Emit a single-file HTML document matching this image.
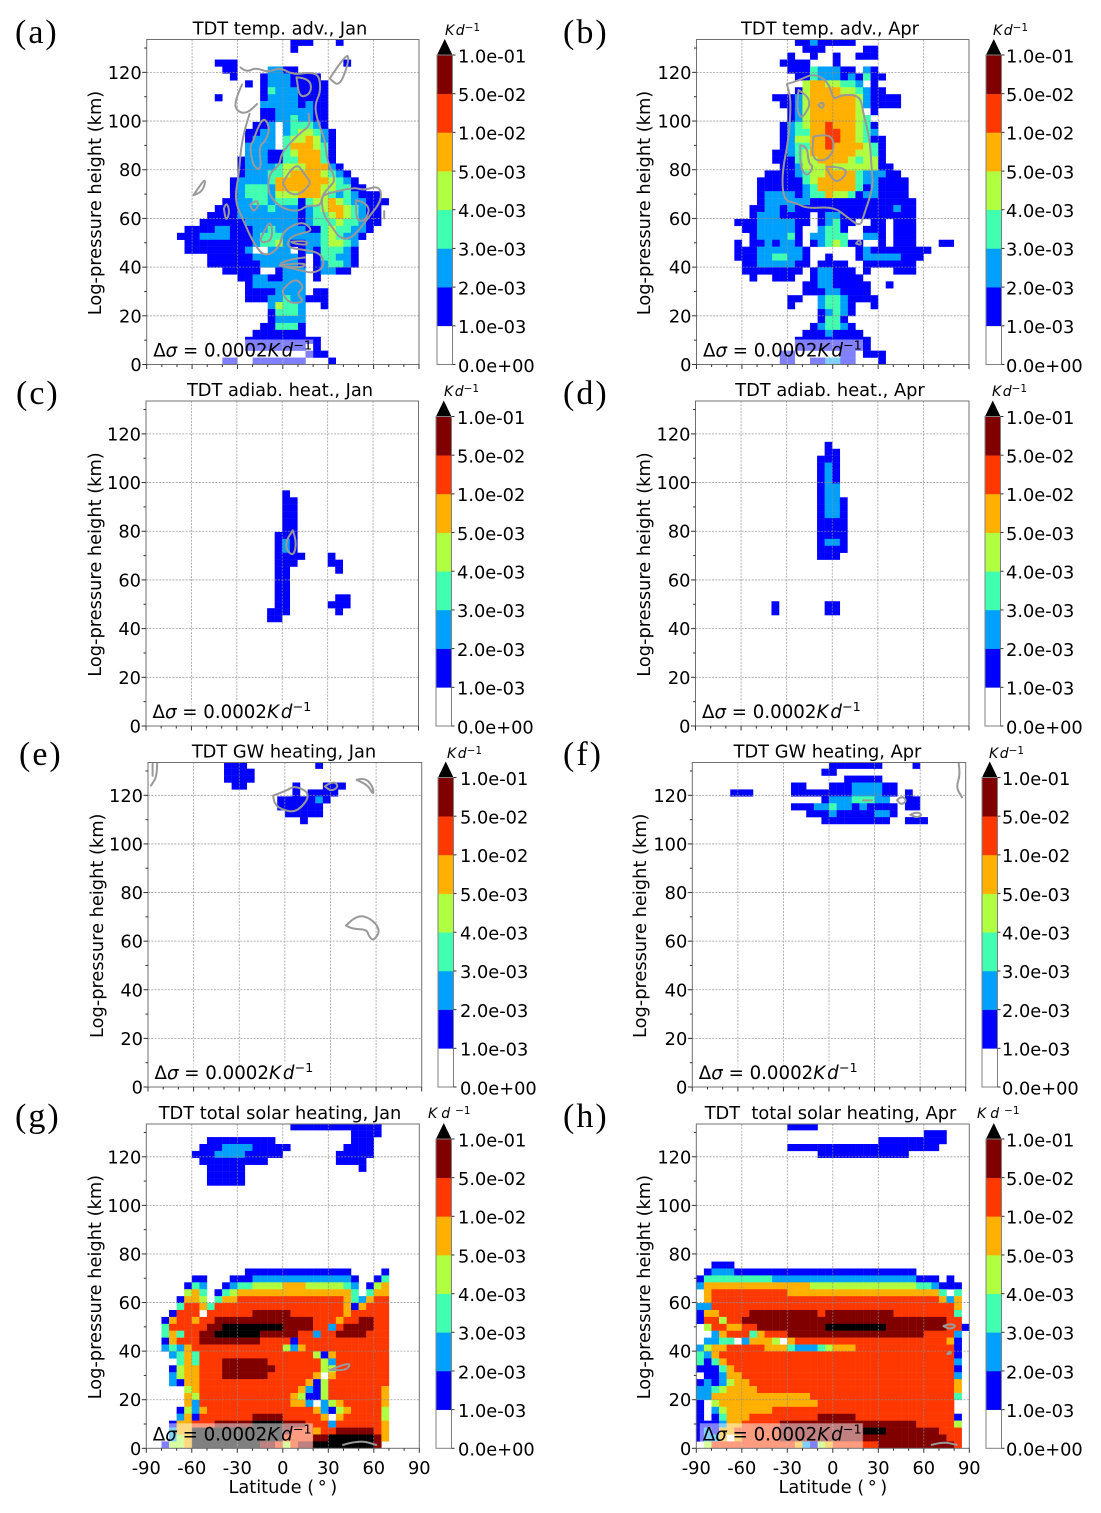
<!DOCTYPE html>
<html>
<head>
<meta charset="utf-8">
<title>TDT heating panels</title>
<style>
html,body{margin:0;padding:0;background:#fff;}
svg{display:block;}
text{font-family:"DejaVu Sans","Liberation Sans",sans-serif;fill:#000;}
</style>
</head>
<body>
<svg id="fig" xmlns="http://www.w3.org/2000/svg" width="1101" height="1513" viewBox="0 0 1101 1513"></svg>
<script>
// Axis values
const latTicks = [-90,-60,-30,0,30,60,90];
const latMinorTicks = [-80,-70,-50,-40,-20,-10,10,20,40,50,70,80];
const heightTicks = [0,20,40,60,80,100,120];
const heightMinorTicks = [10,30,50,70,90,110,130];
const latStep = 5;
const heightStep = 2.847;
const heightRowCount = 47;
const heightMax = 133.5;
const levelLabels = ["0.0e+00","1.0e-03","2.0e-03","3.0e-03","4.0e-03","5.0e-03","1.0e-02","5.0e-02","1.0e-01"];
const levelColors = ["#ffffff","#0000ff","#00a0ff","#40ffb0","#b0ff40","#ffb000","#ff3800","#800000","#000000"];

// Heatmap rows, top to bottom; each digit is the colour-bin of one 5-degree cell.
// Groups of six cover 30 degrees of latitude, missing trailing cells are empty.
const tempAdvJan = [
"000000 000000 000000 011100 010000","000000 000000 000000 010000","",
"000000 000111 000000 000000 001000","000000 000011 000022 110000","000000 000001 000122 211110",
"000000 000000 010122 211111","000000 000000 000132 221111","000000 000100 000122 221111",
"000000 000000 000222 221211","000000 000000 000112 222211","000000 000000 000112 232211",
"000000 000000 001120 233321","000000 000000 011220 234432 1","000000 000000 012220 344542 1",
"000000 000000 022220 355543 1","000000 000000 022211 345553 1","000000 000000 122211 335553 1",
"000000 000000 122223 444555 21","000000 000000 122233 455554 321","000000 000001 222235 555555 4321",
"000000 000001 233325 555554 433110","000000 000001 233324 445554 323211 1","000000 000011 223323 331344 543221 11",
"000000 000111 222232 221234 554321 1","000000 001111 222222 221233 454321 1","000000 011111 122222 221233 343321 1",
"000001 111221 112232 222113 433221","000011 122221 112333 222223 432210","000001 111111 112334 211223 4432",
"000001 111111 120022 201213 3321","000000 001111 112222 221013 3221","000000 001111 111222 221012 3321",
"000000 000011 111001 222012 211","000000 000000 112211 222010","000000 000000 012222 222",
"000000 000000 011112 222011","000000 000000 011122 322111","000000 000000 000024 332001",
"000000 000000 000013 332","000000 000000 000012 222","000000 000000 000113 331",
"000000 000000 001111 111","000000 000000 011111 111110","000000 000000 011111 111010",
"000000 000000 000000 000111","000000 000011 001111 111000 1"];

const tempAdvApr = [
"000000 000000 011211 111","000000 000000 001110 000011","000000 000000 100100 100111",
"000000 000001 111000 1","000000 000000 111322 211021","000000 000000 011322 212131 1",
"000000 000000 004554 433201","000000 000000 014555 544321 1","000000 000011 124555 555421 111",
"000000 000001 124555 555421 111","000000 000000 124555 555401","000000 000000 124555 555430",
"000000 000001 234556 555431","000000 000001 233556 655432","000000 000001 244556 655431 1",
"000000 000001 233556 555543 1","000000 000011 234555 555443 1","000000 000011 134455 554344 1",
"000000 000001 124445 444444 11","000000 000111 123445 555322 211","000000 001111 113455 555322 1111",
"000000 001111 112355 555312 1111","000000 001222 212335 443122 1111","000000 001222 222111 111111 11111",
"000000 011221 211111 111111 112110","000000 012221 111012 211111 11111","000001 112222 211012 311001 101110",
"000000 112222 210023 310011 101110","000000 012222 310223 330022 101110","000001 011212 210123 431100 101110 001100",
"000001 112222 221000 000121 111111 1","000001 112233 221001 000122 222111","000000 112222 211011 110011 11111",
"000000 111111 110122 111010 00111","000000 010011 100122 1111","000000 000000 001122 111110 01",
"000000 000000 001112 211110","000000 000000 110023 321111","000000 000000 100023 321001",
"000000 000000 000012 321","000000 000000 000013 31","000000 000000 000123 321",
"000000 000000 001112 1111","000000 000000 011111 111110","000000 000000 011111 111110",
"000000 000001 100000 011011 1","000000 000001 100112 211000 1"];

const adiabJan = [
"","","","","","","","","","","","","",
"000000 000000 000000 1","000000 000000 000000 11","000000 000000 000000 11","000000 000000 000000 11","000000 000000 000000 11","000000 000000 000000 11",
"000000 000000 000001 11","000000 000000 000001 21","000000 000000 000001 21","000000 000000 000001 111000 1",
"000000 000000 000001 110000 11","000000 000000 000001 100000 01","000000 000000 000001 1","000000 000000 000001 1","000000 000000 000001 1",
"000000 000000 000001 100000 011","000000 000000 000001 100000 111","000000 000000 000011 100000 01","000000 000000 000011"];

const adiabApr = [
"","","","","","",
"000000 000000 000001","000000 000000 000001 1","000000 000000 000011 1",
"000000 000000 000012 1","000000 000000 000012 1","000000 000000 000012 1",
"000000 000000 000012 2","000000 000000 000012 2","000000 000000 000012 21","000000 000000 000012 21","000000 000000 000012 21",
"000000 000000 000011 11","000000 000000 000011 11","000000 000000 000011 11","000000 000000 000012 21","000000 000000 000011 11","000000 000000 000011 1",
"","","","","","",
"000000 000010 000001 1","000000 000010 000001 1"];

const gwJan = [
"000000 000011 100000 000010","000000 000011 110000","000000 000011 110000",
"000000 000001 100000 010001 11","000000 000000 000000 010111 1","000000 000000 000001 111121",
"000000 000000 000001 111110","000000 000000 000000 111110","000000 000000 000000 001"];

const gwApr = [
"000000 000000 000000 111111 100001","000000 000000 000001 1","000000 000000 000000 001111 1",
"000000 000000 011000 111222 211","000001 110000 011111 111222 211010","000000 000000 000001 222333 220011",
"000000 000000 011122 322121 111011","000000 000000 000111 211111 221","000000 000000 000001 111111 110011 1"];

const solarJan = [
"000000 000000 000000 011111 111111 1","000000 000000 000000 000000 000111 1","000000 001111 111110 000000 000111",
"000000 011122 221111 100000 001111","000000 111222 211111 000000 011111","000000 011111 111100 000000 011110",
"000000 001111 100000 000000 000010","000000 001111 1","000000 001111 1",
"","","","","","","","","","","","",
"000000 000000 011111 111111 111000 01","000000 110001 112222 222222 222100 13","000001 320012 334444 555444 443201 45",
"000004 530134 555555 555555 555303 55","000015 540355 666666 666666 665325 66","000036 653666 666666 666666 665156 66",
"000166 606666 667777 766666 665666 66","001566 566777 777777 777766 656677 66","003666 667788 888888 777766 267777 66",
"003536 677888 888777 776626 677776 66","001566 677777 777666 616666 666666 66","002325 666666 666666 425666 666666 66",
"000235 366666 666666 666641 566666 66","000035 366677 777766 666664 266666 66","000145 566677 777776 666664 466666 66",
"000245 566677 777766 666650 566666 66","000215 566666 666666 666514 666666 66","000004 566666 666666 665214 666666 65",
"000005 466666 666666 654114 666666 65","000005 266666 666666 655202 456666 65","000014 256666 666666 666652 145666 64",
"000025 166666 667777 666665 056666 64","000155 666777 778888 777666 266666 65","000255 888888 888888 766656 677777 65",
"000245 888888 888888 666677 888888 75","001445 888888 888776 467788 888888 7"];

const solarApr = [
"000000 000000 111100","000000 000000 000000 000000 000000 111","000000 000000 000000 000000 111111 111",
"000000 000000 111111 111111 111111 11","000000 000000 000011 111111 111100","","","","","","","","","","","","","","","",
"001110","012221 111111 111111 111111 111110","133333 333322 222222 222222 222221 110100",
"255555 555555 555444 444444 444443 321110","056666 666666 555555 555555 555555 553030","056666 666666 666666 666666 666666 665250",
"226666 666666 666666 666666 666666 666650","155666 677777 777767 777777 776666 666630","166466 777777 777777 777777 777777 777660",
"046655 667777 777778 888888 877777 777661","002566 635666 777777 777777 777777 666620","022330 255540 566666 666666 666666 666510",
"245566 666555 322234 555666 666666 666610","325666 666666 666666 666666 666666 666610","313566 666666 666666 666666 666666 666620",
"111356 666666 666666 666666 666666 666610","011255 666666 666666 666666 666666 666620","121245 566666 666666 666666 666666 666650",
"223455 556666 666666 666666 666666 666650","225555 555555 555666 666666 666666 666630","104555 555555 555566 666666 666666 666600",
"102455 555566 666666 666666 666666 666600","101355 566666 666677 777666 666666 666610","111255 666667 777777 777777 777776 666640",
"121556 666667 777777 777788 877777 776660","122505 666667 777777 777777 777777 777660","046666 666666 652145 666666 777777 777760"];

// Grey contour lines as [latitude, height km] vertices
const contoursTempAdvJan = [
[[-28,122],[-24,120],[-18,122],[-10,120],[-2,122],[7,119],[17,120],[24,119],[25,112],[21,106.5],[23,100],[28,92],[29,84],[35,76],[31,73],[26,69.5],[25,65],[16,65.5],[11,63],[2,63.5],[-6,67],[-10,71.5],[-9,78.5],[-2,82],[-1,87],[11,95],[18,98],[17,103]],
[[-27,115],[-32,108],[-30.5,104],[-24,103],[-17,107]],
[[-22,103],[-27,93.5],[-29,78.5],[-32,67.5],[-26,59],[-19.5,50],[-12,44],[-2,48],[0,55],[13,59],[20,55],[13,54],[4.6,52.5],[2.4,48],[15.6,47],[25.5,45.6],[27.6,40],[20,37.4],[11,38.8],[-4,40.8],[3.5,43],[14.5,44]],
[[0,74.5],[8,84],[15.6,77],[19,74.5],[11,69.6],[3.5,70.3],[0,74.5]],
[[9,118],[18,117.6],[19,111.5],[11,109.3],[9,118]],
[[-19.5,92],[-14,102.5],[-8.5,97.7],[-11,92],[-16,89.5],[-14,80],[-19.5,81],[-22,89.5],[-19.5,92]],
[[-59,69.6],[-52.5,75.8],[-51,75],[-53.5,71],[-59,69.6]],
[[31,117.5],[42,128],[44,125],[37.5,114],[31,117.5]],
[[-39,64],[-37.5,67],[-35,63],[-37.5,58.6],[-39,64]],
[[-21.7,65.5],[-17,68],[-16,65],[-19.5,62.7],[-21.7,65.5]],
[[-15,51],[-9.6,59],[-6.8,56.6],[-7.5,51],[-13,50],[-15,51]],
[[29,70],[46,73],[53,71.5],[64,73.5],[65.5,67.5],[57,60.7],[50,55],[44,51.5],[37.5,52],[33,56],[26.5,61.7],[25.5,69],[29,70]],
[[48.5,67.5],[58,66],[55,59],[48.5,59],[48.5,67.5]],
[[0,30.5],[6.8,36],[14.5,32],[9,29],[14.5,25.7],[4.6,25],[0,29],[0,30.5]],
[[5.7,50.4],[15.6,51],[16.7,49],[6.8,49.7],[5.7,50.4]],
[[-2,40.8],[14.5,42],[14.5,40],[2.4,40],[-2,40.8]],
[[67,63],[67,60]]
];
const contoursTempAdvApr = [
[[-30.3,115.2],[-22.6,116.6],[-12.7,119.6],[-2.9,116.2],[0.4,108.6],[4.8,110.7],[18,110.7],[20.2,103.2],[24.6,92.2],[25.7,79.9],[26.8,73],[20.2,60.7],[18,56.6],[9.2,60.7],[0.4,64.8],[-17,64.1],[-23.7,66.2],[-32.5,67.5],[-33.6,78.5],[-29.2,92.2],[-28,103.2],[-28,110],[-30.3,115.2]],
[[-12.7,93.6],[-2.9,95],[1.5,90.8],[-1.8,84.7],[-10.5,83.3],[-13.8,86.7],[-12.7,93.6]],
[[-21.5,90],[-17,90],[-16,82.6],[-12.7,81.2],[-17,77],[-21.5,81],[-21.5,90]],
[[-4,81.2],[12.5,81.2],[2.6,73.7],[-4,80],[-4,81.2]],
[[-9.4,106.6],[-7.2,108],[-5.5,106.6],[-7.2,105],[-9.4,106.6]],
[[-22.6,112.7],[-12.7,109.3],[-20.4,100.4],[-23.7,104.5],[-22.6,112.7]],
[[15.4,49.7],[17.6,51.8],[19,49],[15.4,49.7]]
];
const contoursAdiabJan = [[[7,80.4],[9.5,76.3],[7.7,69.7],[2.7,72.2],[2.7,76.3],[7,80.4]]];
const contoursAdiabApr = [];
const contoursGwJan = [
[[-7.7,119.9],[1.1,121.9],[6.6,124],[17.6,120.5],[7.7,112.7],[-3.3,114.4],[-7,117],[-7.7,119.9]],
[[26.3,123.7],[31.8,126],[35.5,123.7],[30.7,121.6],[26.3,123.7]],
[[47.2,126.4],[52.7,127.4],[58.2,123.3],[58.2,120.1],[54.9,124],[47.2,126.4]],
[[-84,133],[-84,128],[-88,124]],
[[-87,133],[-87,128]],
[[40.2,66.4],[47.2,71],[57,69.2],[63,64.4],[58.2,60],[55,62.3],[53.8,64.8],[45,65],[40.2,66.4]]
];
const contoursGwApr = [
[[85.4,133],[86.5,128.6],[83.6,123.3],[87.6,119.2]],
[[44.8,118],[47.6,119.9],[51.4,117.8],[47.6,116],[44.8,118]],
[[53.6,112],[57.5,113.3],[61.7,111.9],[57.5,110.8],[53.6,112]],
[[22.4,117.9],[28.3,117.9]]
];
const contoursSolarJan = [
[[31,32.2],[45,35.9],[42.7,32.2],[31,32.2]],
[[39.7,1.4],[50.7,3.4],[61.7,1.4]]
];
const contoursSolarApr = [
[[72.9,50.3],[77.3,51.4],[81.6,50.3],[77.3,49],[72.9,50.3]],
[[65.2,1.4],[72.9,2.7],[81.6,1.4]],
[[75.5,38.8],[78.4,38.8],[77.3,40.1],[75.5,38.8]]
];

const panels = [
 {id:"a",title:"TDT temp. adv., Jan",grid:tempAdvJan,lines:contoursTempAdvJan,l:146.7,r:419,t:39.5,b:364.5,bar:437,lab:458,barTop:55,unitX:445,unitY:35,tx:280,lx:15,ly:43,ylx:101,xl:false},
 {id:"b",title:"TDT temp. adv., Apr",grid:tempAdvApr,lines:contoursTempAdvApr,l:696.5,r:969,t:39.5,b:364.5,bar:986,lab:1006,barTop:55,unitX:993,unitY:35,tx:830,lx:563,ly:43,ylx:650,xl:false},
 {id:"c",title:"TDT adiab. heat., Jan",grid:adiabJan,lines:contoursAdiabJan,l:146,r:418.5,t:401,b:726,bar:436,lab:457,barTop:416.5,unitX:444,unitY:396,tx:280,lx:16,ly:404,ylx:101,xl:false},
 {id:"d",title:"TDT adiab. heat., Apr",grid:adiabApr,lines:contoursAdiabApr,l:695.5,r:969,t:401,b:726,bar:985,lab:1006,barTop:416.5,unitX:992,unitY:396,tx:830,lx:563,ly:404,ylx:650,xl:false},
 {id:"e",title:"TDT GW heating, Jan",grid:gwJan,lines:contoursGwJan,l:148,r:421.7,t:762.5,b:1087,bar:438,lab:460,barTop:777.5,unitX:447,unitY:758,tx:284,lx:19,ly:765,ylx:103,xl:false},
 {id:"f",title:"TDT GW heating, Apr",grid:gwApr,lines:contoursGwApr,l:692.3,r:965.7,t:762.5,b:1087,bar:982,lab:1002,barTop:777.5,unitX:989,unitY:758,tx:827.5,lx:563,ly:765,ylx:646,xl:false},
 {id:"g",title:"TDT total solar heating, Jan",grid:solarJan,lines:contoursSolarJan,l:146.3,r:419.3,t:1124,b:1448.3,bar:436,lab:458,barTop:1139,unitX:428,unitY:1118,tx:280,lx:15,ly:1127,ylx:101,xl:true},
 {id:"h",title:"TDT\u00a0 total solar heating, Apr",grid:solarApr,lines:contoursSolarApr,l:696.3,r:969.3,t:1124,b:1448.3,bar:986,lab:1006,barTop:1139,unitX:977,unitY:1118,tx:830.5,lx:563,ly:1127,ylx:650,xl:true}
];

const NS = "http://www.w3.org/2000/svg";
function make(parent, tag, attrs, content){
  const el = document.createElementNS(NS, tag);
  for (const k in attrs) el.setAttribute(k, attrs[k]);
  if (content !== undefined) el.textContent = content;
  parent.appendChild(el);
  return el;
}
function mark(el, name){
  
  
  return el;
}
function parseRow(row){
  return row.replace(/ /g,'').padEnd(36,'0').split('').map(Number);
}
function smoothPath(pts){
  let d = 'M'+pts[0][0].toFixed(1)+' '+pts[0][1].toFixed(1);
  for (let i=1;i<pts.length-1;i++){
    const mx = (pts[i][0]+pts[i+1][0])/2, my = (pts[i][1]+pts[i+1][1])/2;
    d += ' Q'+pts[i][0].toFixed(1)+' '+pts[i][1].toFixed(1)+' '+mx.toFixed(1)+' '+my.toFixed(1);
  }
  const e = pts[pts.length-1];
  d += ' L'+e[0].toFixed(1)+' '+e[1].toFixed(1);
  return d;
}

const fig = document.getElementById('fig');
const defs = make(fig,'defs',{});
const FS = 17.8;

panels.forEach(function(p){
  const g = mark(make(fig,'g',{}), 'panel-'+p.id);
  const xScale = function(lat){ return p.l + (lat+90)/180*(p.r-p.l); };
  const yScale = function(km){ return p.b - km/heightMax*(p.b-p.t); };
  const clip = make(defs,'clipPath',{id:'clip-'+p.id});
  make(clip,'rect',{x:p.l,y:p.t,width:p.r-p.l,height:p.b-p.t});

  // heatmap
  const heat = mark(make(g,'g',{'clip-path':'url(#clip-'+p.id+')'}), 'heatmap');
  p.grid.forEach(function(row, r){
    const kmTop = (heightRowCount-r)*heightStep, kmBot = (heightRowCount-r-1)*heightStep;
    parseRow(row).forEach(function(bin, c){
      if (!bin) return;
      const x0 = xScale(-90+c*latStep), x1 = xScale(-90+(c+1)*latStep);
      const cell = make(heat,'rect',{x:x0,y:yScale(kmTop),width:x1-x0+0.2,height:yScale(kmBot)-yScale(kmTop)+0.2,fill:levelColors[bin]});
      
      
    });
  });

  // grid
  const gridG = mark(make(g,'g',{stroke:'#8c8c8c','stroke-width':0.8,'stroke-dasharray':'2 1.3',opacity:0.85}), 'grid-lines');
  latTicks.slice(1,-1).forEach(function(v){
    const line = make(gridG,'line',{x1:xScale(v),x2:xScale(v),y1:p.t,y2:p.b});
    
    
  });
  heightTicks.slice(1).forEach(function(v){
    const line = make(gridG,'line',{x1:p.l,x2:p.r,y1:yScale(v),y2:yScale(v)});
    
    
  });

  // contours
  const contG = mark(make(g,'g',{fill:'none',stroke:'#999999','stroke-width':2,'stroke-linejoin':'round','stroke-linecap':'round','clip-path':'url(#clip-'+p.id+')'}), 'contours');
  p.lines.forEach(function(pts){
    const line = make(contG,'path',{d:smoothPath(pts.map(function(q){return [xScale(q[0]),yScale(q[1])];}))});
    
    
  });

  // annotation box
  mark(make(g,'rect',{x:p.l+3.5,y:p.b-25,width:163,height:25,fill:'#fff','fill-opacity':0.5}), 'annotation-box');
  const ann = mark(make(g,'text',{x:p.l+6.5,y:p.b-8,'font-size':18.2}), 'sigma-annotation');
  make(ann,'tspan',{},'Δ');
  make(ann,'tspan',{'font-style':'italic'},'σ');
  make(ann,'tspan',{},' = 0.0002');
  make(ann,'tspan',{'font-style':'italic'},'K');
  make(ann,'tspan',{'font-style':'italic',dx:2},'d');
  make(ann,'tspan',{dy:-7,'font-size':12.8},'−1');

  // spines
  mark(make(g,'rect',{x:p.l,y:p.t,width:p.r-p.l,height:p.b-p.t,fill:'none',stroke:'#707070','stroke-width':1}), 'axes-frame');

  // ticks
  const tickG = mark(make(g,'g',{stroke:'#333','stroke-width':1}), 'ticks');
  latTicks.forEach(function(v){ make(tickG,'line',{x1:xScale(v),x2:xScale(v),y1:p.b,y2:p.b+4.5}); });
  latMinorTicks.forEach(function(v){ make(tickG,'line',{x1:xScale(v),x2:xScale(v),y1:p.b,y2:p.b+2.5}); });
  heightTicks.forEach(function(v){ make(tickG,'line',{x1:p.l,x2:p.l-4.5,y1:yScale(v),y2:yScale(v)}); });
  heightMinorTicks.forEach(function(v){ make(tickG,'line',{x1:p.l,x2:p.l-2.5,y1:yScale(v),y2:yScale(v)}); });

  heightTicks.forEach(function(v){
    const t = make(g,'text',{x:p.l-5,y:yScale(v)+6.5,'font-size':FS,'text-anchor':'end'},String(v));
    
    
  });
  if (p.xl){
    latTicks.forEach(function(v){
      const t = make(g,'text',{x:xScale(v),y:p.b+25.5,'font-size':FS,'text-anchor':'middle'},String(v));
      
      
    });
    mark(make(g,'text',{x:(p.l+p.r)/2,y:p.b+44.5,'font-size':FS,'text-anchor':'middle'},'Latitude (\u2009°\u2009)'), 'x-axis-title');
  }

  // labels
  mark(make(g,'text',{x:p.tx,y:p.t-5,'font-size':FS,'text-anchor':'middle'},p.title), 'panel-title');
  mark(make(g,'text',{x:p.lx,y:p.ly,'font-size':34,'letter-spacing':'2px',style:'font-family:"Liberation Serif",serif'},'('+p.id+')'), 'panel-letter');
  const cy = (p.t+p.b)/2 + 1;
  mark(make(g,'text',{x:p.ylx,y:cy,'font-size':FS,'text-anchor':'middle',transform:'rotate(-90 '+p.ylx+' '+cy+')'},'Log-pressure height (km)'), 'y-axis-title');

  // colourbar
  const cb = mark(make(g,'g',{}), 'colorbar');
  const bw = 15.5, segH = (p.b-p.barTop)/8;
  for (let i=0;i<8;i++){
    const seg = make(cb,'rect',{x:p.bar,y:p.b-(i+1)*segH,width:bw,height:segH+0.3,fill:levelColors[i]});
    
    
  }
  mark(make(cb,'polygon',{points:p.bar+','+p.barTop+' '+(p.bar+bw)+','+p.barTop+' '+(p.bar+bw/2)+','+(p.barTop-16),fill:levelColors[8]}), 'colorbar-extend-arrow');
  mark(make(cb,'rect',{x:p.bar,y:p.barTop,width:bw,height:p.b-p.barTop,fill:'none',stroke:'#808080','stroke-width':1}), 'colorbar-frame');
  levelLabels.forEach(function(lab,i){
    const y = p.b-i*segH;
    make(cb,'line',{x1:p.bar+bw,x2:p.bar+bw+3,y1:y,y2:y,stroke:'#333','stroke-width':1});
    const t = make(cb,'text',{x:p.lab,y:y+7.3,'font-size':17.8},lab);
    
    
  });
  const unit = mark(make(cb,'text',{x:p.unitX,y:p.unitY,'font-size':14}), 'colorbar-unit');
  make(unit,'tspan',{'font-style':'italic'},'K');
  make(unit,'tspan',{'font-style':'italic',dx:p.xl?4:1.5},'d');
  make(unit,'tspan',{dx:p.xl?5:0,dy:-4,'font-size':10.5},'−1');
});
</script>
</body>
</html>
